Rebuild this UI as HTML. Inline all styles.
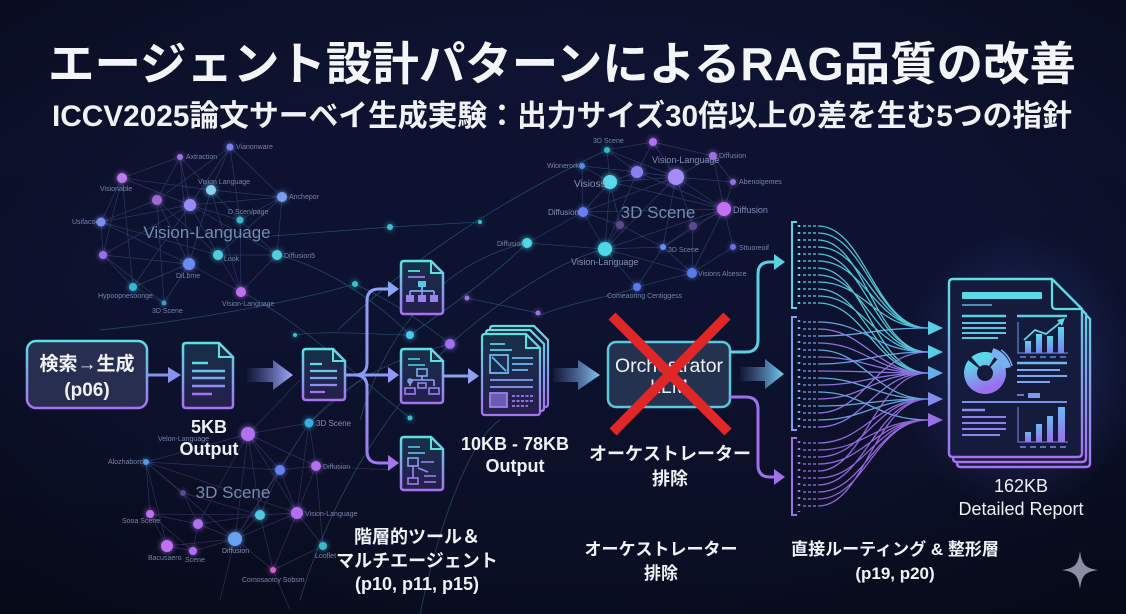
<!DOCTYPE html>
<html><head><meta charset="utf-8">
<style>
html,body{margin:0;padding:0;background:#0b1026;}
svg{display:block;}
text{font-family:"Liberation Sans","Noto Sans CJK JP",sans-serif;}
</style></head><body>
<svg width="1126" height="614" viewBox="0 0 1126 614" xmlns="http://www.w3.org/2000/svg" xmlns:xlink="http://www.w3.org/1999/xlink">
<defs>
 <linearGradient id="bg" x1="0" y1="0" x2="0" y2="1">
  <stop offset="0" stop-color="#0e1331"/>
  <stop offset="0.5" stop-color="#0d1230"/>
  <stop offset="1" stop-color="#0a0e22"/>
 </linearGradient>
 <radialGradient id="vig" cx="0.5" cy="0.5" r="0.72">
  <stop offset="0.55" stop-color="#000" stop-opacity="0"/>
  <stop offset="1" stop-color="#000" stop-opacity="0.35"/>
 </radialGradient>
 <linearGradient id="gv" x1="0" y1="0" x2="0" y2="1">
  <stop offset="0" stop-color="#5fe0e0"/>
  <stop offset="0.5" stop-color="#7fa6ee"/>
  <stop offset="1" stop-color="#a772f0"/>
 </linearGradient>
 <linearGradient id="gdf" x1="0" y1="0" x2="0" y2="1">
  <stop offset="0" stop-color="#17304a"/>
  <stop offset="1" stop-color="#241f4c"/>
 </linearGradient>
 <linearGradient id="fat1" x1="0" y1="0" x2="1" y2="0">
  <stop offset="0" stop-color="#7a80e0" stop-opacity="0.05"/>
  <stop offset="1" stop-color="#a4acf8"/>
 </linearGradient>
 <linearGradient id="fat2" x1="0" y1="0" x2="1" y2="0">
  <stop offset="0" stop-color="#7a90e0" stop-opacity="0.05"/>
  <stop offset="1" stop-color="#80c4f0"/>
 </linearGradient>
 <linearGradient id="fat3" x1="0" y1="0" x2="1" y2="0">
  <stop offset="0" stop-color="#7a90e0" stop-opacity="0.05"/>
  <stop offset="1" stop-color="#6cd0ee"/>
 </linearGradient>
 <linearGradient id="branch" gradientUnits="userSpaceOnUse" x1="0" y1="280" x2="0" y2="470">
  <stop offset="0" stop-color="#8aa4f4"/>
  <stop offset="0.5" stop-color="#8f98f2"/>
  <stop offset="1" stop-color="#a476ec"/>
 </linearGradient>
 <linearGradient id="barg" x1="0" y1="0" x2="0" y2="1">
  <stop offset="0" stop-color="#5ad8e8"/>
  <stop offset="1" stop-color="#7a80f0"/>
 </linearGradient>
 <linearGradient id="barg2" x1="0" y1="0" x2="0" y2="1">
  <stop offset="0" stop-color="#6ab8f0"/>
  <stop offset="1" stop-color="#9a6ef0"/>
 </linearGradient>
 <linearGradient id="gpie" x1="0" y1="0" x2="0" y2="1">
  <stop offset="0" stop-color="#5ad8e8"/>
  <stop offset="1" stop-color="#9a70f0"/>
 </linearGradient>
 <radialGradient id="glowR" cx="0.5" cy="0.5" r="0.5">
  <stop offset="0" stop-color="#4a70d8" stop-opacity="0.38"/>
  <stop offset="0.6" stop-color="#4a60c8" stop-opacity="0.15"/>
  <stop offset="1" stop-color="#4a60c8" stop-opacity="0"/>
 </radialGradient>
 <filter id="blur3" x="-50%" y="-50%" width="200%" height="200%"><feGaussianBlur stdDeviation="3"/></filter>
 <filter id="blur2" x="-50%" y="-50%" width="200%" height="200%"><feGaussianBlur stdDeviation="2"/></filter>
</defs>

<rect width="1126" height="614" fill="url(#bg)"/>
<rect width="1126" height="614" fill="url(#vig)"/>

<!-- ===== Background network lines ===== -->
<g fill="none" stroke-linecap="round">
 <path stroke="#6a88d8" stroke-opacity="0.32" stroke-width="0.7" d="M230,147L157,200 M230,147L190,205 M230,147L211,190 M230,147L282,197 M230,147L240,220 M180,157L122,178 M180,157L190,205 M180,157L211,190 M180,157L157,200 M180,157L189,264 M122,178L101,222 M122,178L190,205 M122,178L103,255 M122,178L211,190 M122,178L133,287 M157,200L101,222 M157,200L218,255 M157,200L189,264 M157,200L164,303 M190,205L282,197 M190,205L240,220 M190,205L218,255 M190,205L133,287 M190,205L277,255 M190,205L103,255 M211,190L282,197 M211,190L189,264 M211,190L241,292 M211,190L240,220 M282,197L240,220 M282,197L277,255 M282,197L218,255 M101,222L103,255 M101,222L189,264 M101,222L218,255 M103,255L133,287 M103,255L189,264 M103,255L164,303 M189,264L241,292 M189,264L133,287 M189,264L164,303 M218,255L241,292 M218,255L277,255 M277,255L241,292 M133,287L164,303 M240,220L241,292 M240,220L277,255 M101,222L190,205"/>
 <path stroke="#6a90d8" stroke-opacity="0.32" stroke-width="0.7" d="M607,150L610,182 M607,150L637,172 M607,150L676,177 M607,150L653,142 M653,142L637,172 M653,142L676,177 M653,142L713,156 M713,156L676,177 M713,156L724,209 M713,156L733,182 M582,166L610,182 M582,166L583,212 M582,166L637,172 M637,172L676,177 M637,172L610,182 M637,172L605,249 M610,182L676,177 M610,182L583,212 M610,182L605,249 M610,182L620,225 M676,177L724,209 M676,177L733,182 M676,177L693,226 M676,177L605,249 M676,177L663,247 M733,182L724,209 M583,212L605,249 M583,212L620,225 M583,212L527,243 M724,209L693,226 M724,209L733,247 M724,209L692,273 M724,209L663,247 M620,225L605,249 M620,225L663,247 M693,226L663,247 M693,226L692,273 M605,249L663,247 M605,249L637,287 M605,249L692,273 M663,247L692,273 M663,247L637,287 M733,247L692,273 M692,273L637,287 M527,243L605,249 M610,182L724,209 M637,172L724,209 M676,177L583,212 M605,249L724,209 M583,212L724,209"/>
 <path stroke="#8a78d8" stroke-opacity="0.3" stroke-width="0.7" d="M248,434L280,470 M248,434L316,466 M248,434L309,423 M248,434L146,462 M248,434L260,515 M248,434L297,513 M248,434L198,524 M309,423L280,470 M309,423L316,466 M309,423L297,513 M146,462L183,493 M146,462L150,514 M146,462L280,470 M146,462L167,546 M280,470L316,466 M280,470L297,513 M280,470L260,515 M280,470L235,539 M316,466L297,513 M316,466L323,546 M183,493L198,524 M183,493L260,515 M150,514L198,524 M150,514L167,546 M150,514L193,551 M198,524L235,539 M198,524L193,551 M198,524L260,515 M260,515L235,539 M260,515L297,513 M297,513L235,539 M297,513L323,546 M297,513L273,570 M167,546L193,551 M167,546L235,539 M193,551L235,539 M235,539L273,570 M323,546L273,570 M260,515L273,570 M146,462L235,539 M150,514L260,515 M248,434L235,539 M309,423L235,539 M146,462L297,513 M248,434L300,380 M309,423L360,380 M316,466L390,470 M235,539L220,600 M273,570L290,610"/>
 <path stroke="#4ab0d0" stroke-opacity="0.35" stroke-width="0.8" d="M272,236 L390,227 L480,222 M277,255 C320,265 370,295 410,335 M100,330 C200,320 300,300 355,284 M241,292 C300,320 360,380 410,418 M450,344 C500,300 560,260 605,249 M410,335 C460,300 500,270 527,243 M338,330 C400,270 480,210 607,150 M467,298 L538,313 M300,600 C330,500 380,420 450,344 M420,614 C440,520 470,440 500,420 M527,243 C450,260 390,320 360,420 M355,284 C390,300 420,320 450,344 M540,315 C580,300 620,295 637,287 M309,423 C350,380 390,360 450,344 M295,335 C330,330 380,335 410,335"/>
</g>

<!-- network node glow -->
<use xlink:href="#nodes" href="#nodes" filter="url(#blur3)" opacity="0.9"/>
<g id="nodes">
 <circle cx="230" cy="147" r="3.5" fill="#7a80f0"/>
 <circle cx="180" cy="157" r="3" fill="#a070e0"/>
 <circle cx="122" cy="178" r="5" fill="#c07af0"/>
 <circle cx="157" cy="200" r="5" fill="#a06ad0"/>
 <circle cx="190" cy="205" r="6" fill="#9a8cf8"/>
 <circle cx="211" cy="190" r="5" fill="#8ad0f0"/>
 <circle cx="282" cy="197" r="5" fill="#7a9ef0"/>
 <circle cx="240" cy="220" r="3.5" fill="#3ab8c8"/>
 <circle cx="101" cy="222" r="4.5" fill="#7a90f0"/>
 <circle cx="103" cy="255" r="4" fill="#9a70e8"/>
 <circle cx="189" cy="264" r="6" fill="#6a8cf0"/>
 <circle cx="218" cy="255" r="5" fill="#4fd0e0"/>
 <circle cx="277" cy="255" r="5" fill="#4fd0e0"/>
 <circle cx="133" cy="287" r="4" fill="#3ab8d0"/>
 <circle cx="164" cy="303" r="2.5" fill="#3aa0c0"/>
 <circle cx="241" cy="292" r="5" fill="#c070f0"/>

 <circle cx="653" cy="142" r="4" fill="#b070f0"/>
 <circle cx="607" cy="150" r="3" fill="#3ab8c8"/>
 <circle cx="713" cy="156" r="4" fill="#a070e0"/>
 <circle cx="582" cy="166" r="3" fill="#5a8ae0"/>
 <circle cx="637" cy="172" r="6" fill="#8a80f0"/>
 <circle cx="610" cy="182" r="7" fill="#5ad8ec"/>
 <circle cx="676" cy="177" r="8" fill="#a48cf8"/>
 <circle cx="733" cy="182" r="3" fill="#9070e0"/>
 <circle cx="583" cy="212" r="5" fill="#6a7ef0"/>
 <circle cx="724" cy="209" r="7" fill="#c070f0"/>
 <circle cx="620" cy="225" r="4" fill="#5a4a8a"/>
 <circle cx="693" cy="226" r="4" fill="#5a4a8a"/>
 <circle cx="527" cy="243" r="5" fill="#4fd8e8"/>
 <circle cx="605" cy="249" r="7" fill="#4fd8e8"/>
 <circle cx="663" cy="247" r="3" fill="#6a8cf0"/>
 <circle cx="733" cy="247" r="3" fill="#6a70e0"/>
 <circle cx="692" cy="273" r="5" fill="#5a7ae8"/>
 <circle cx="637" cy="287" r="4" fill="#5a7ae8"/>

 <circle cx="248" cy="434" r="7" fill="#b070f0"/>
 <circle cx="309" cy="423" r="4.5" fill="#3ab0e0"/>
 <circle cx="146" cy="462" r="3" fill="#4aa0e0"/>
 <circle cx="280" cy="470" r="5" fill="#6a80f0"/>
 <circle cx="316" cy="466" r="5" fill="#b070f0"/>
 <circle cx="183" cy="493" r="3" fill="#5a4a8a"/>
 <circle cx="150" cy="514" r="4" fill="#c070f0"/>
 <circle cx="198" cy="524" r="5" fill="#b070f0"/>
 <circle cx="260" cy="515" r="5" fill="#4fc8e0"/>
 <circle cx="297" cy="513" r="6" fill="#b070f0"/>
 <circle cx="167" cy="546" r="6" fill="#c070f0"/>
 <circle cx="193" cy="551" r="4" fill="#b070f0"/>
 <circle cx="235" cy="539" r="7" fill="#6aa0f0"/>
 <circle cx="323" cy="546" r="4" fill="#3ab8c8"/>
 <circle cx="273" cy="570" r="3" fill="#d060d0"/>

 <circle cx="355" cy="284" r="3" fill="#3ac0d0"/>
 <circle cx="390" cy="227" r="3" fill="#3ac0d0"/>
 <circle cx="410" cy="335" r="4" fill="#4ac8e8"/>
 <circle cx="450" cy="344" r="5" fill="#a070f0"/>
 <circle cx="467" cy="298" r="2.5" fill="#a070e0"/>
 <circle cx="538" cy="313" r="2.5" fill="#a070e0"/>
 <circle cx="410" cy="418" r="2.5" fill="#3ac0d0"/>
 <circle cx="295" cy="335" r="2" fill="#3ac0d0"/>
 <circle cx="480" cy="222" r="2" fill="#3ac0d0"/>
</g>

<!-- network labels -->
<g fill="#7584a8" font-size="7">
 <text x="236" y="149">Vianonware</text>
 <text x="186" y="159">Axtraction</text>
 <text x="100" y="191">Visionable</text>
 <text x="198" y="184">Vision Language</text>
 <text x="289" y="199">Anchepor</text>
 <text x="228" y="214">D Scen/page</text>
 <text x="72" y="224">Usifacoo</text>
 <text x="224" y="261">Look</text>
 <text x="176" y="278">DiLbme</text>
 <text x="284" y="258">Diffusion5</text>
 <text x="98" y="298">Hypoopnesoonge</text>
 <text x="152" y="313">3D Scene</text>
 <text x="222" y="306">Vision-Language</text>

 <text x="593" y="143">3D Scene</text>
 <text x="719" y="158">Diffusion</text>
 <text x="547" y="168">Wionerork</text>
 <text x="739" y="184">Abenoigemes</text>
 <text x="497" y="246">Diffusion</text>
 <text x="668" y="252">3D Scene</text>
 <text x="739" y="250">Sttuoreoif</text>
 <text x="698" y="276">Visions Alsesce</text>
 <text x="607" y="298">Comeaoring Centiggess</text>

 <text x="158" y="441">Velon-Language</text>
 <text x="108" y="464">Alozhaborcl</text>
 <text x="323" y="469">Diffusion</text>
 <text x="122" y="523">Sooa Scene</text>
 <text x="305" y="516">Vision-Language</text>
 <text x="148" y="560">Bacusaero</text>
 <text x="185" y="562">Scene</text>
 <text x="315" y="558">Looflet</text>
 <text x="242" y="582">Comosaotcy Sobsm</text>
</g>
<g fill="#8090b4">
 <text x="574" y="187" font-size="10">Visioss</text>
 <text x="652" y="163" font-size="9">Vision-Language</text>
 <text x="548" y="215" font-size="8">Diffusion</text>
 <text x="733" y="213" font-size="9">Diffusion</text>
 <text x="571" y="265" font-size="9">Vision-Language</text>
 <text x="316" y="426" font-size="8">3D Scene</text>
 <text x="222" y="553" font-size="7">Diffusion</text>
</g>
<g fill="#6f8db5" font-size="17" text-anchor="middle">
 <text x="207" y="238">Vision-Language</text>
 <text x="658" y="218">3D Scene</text>
 <text x="233" y="498">3D Scene</text>
</g>

<!-- ===== Title ===== -->
<text x="562" y="80" font-size="46" font-weight="bold" fill="#f4f5f8" text-anchor="middle" textLength="1028" lengthAdjust="spacingAndGlyphs">エージェント設計パターンによるRAG品質の改善</text>
<text x="562" y="126" font-size="30" font-weight="bold" fill="#f0f1f5" text-anchor="middle" textLength="1020" lengthAdjust="spacingAndGlyphs">ICCV2025論文サーベイ生成実験：出力サイズ30倍以上の差を生む5つの指針</text>

<!-- ===== Flow ===== -->
<!-- input box -->
<rect x="27" y="341" width="120" height="67" rx="9" fill="#282e50" stroke="url(#gv)" stroke-width="2.5"/>
<text x="87" y="370" font-size="19" font-weight="bold" fill="#f0f2f8" text-anchor="middle">検索→生成</text>
<text x="87" y="396" font-size="19" font-weight="bold" fill="#f0f2f8" text-anchor="middle">(p06)</text>

<!-- thin arrow box -> doc1 -->
<line x1="147" y1="375" x2="170" y2="375" stroke="#8890f0" stroke-width="3"/>
<polygon points="168,367 181,375 168,383" fill="#8890f0"/>

<!-- doc1 -->
<path d="M183,346 Q183,343 186,343 H219 L233,357 V405 Q233,408 230,408 H186 Q183,408 183,405 Z" fill="url(#gdf)" stroke="url(#gv)" stroke-width="2.5"/>
<path d="M219,343 V357 H233" fill="none" stroke="#5fe0e0" stroke-width="2"/>
<path d="M192,363 H208 M192,371 H225 M192,378 H225 M192,386 H225 M192,394 H212" stroke="url(#gv)" stroke-width="2.5" fill="none"/>

<text x="209" y="433" font-size="18" font-weight="bold" fill="#eef0f6" text-anchor="middle">5KB</text>
<text x="209" y="455" font-size="18" font-weight="bold" fill="#eef0f6" text-anchor="middle">Output</text>

<!-- fat arrow 1 -->
<polygon points="247,368 273,368 273,360 293,375 273,390 273,382 247,382" fill="url(#fat1)"/>

<!-- doc2 -->
<path d="M303,352 Q303,349 306,349 H333 L345,361 V397 Q345,400 342,400 H306 Q303,400 303,397 Z" fill="url(#gdf)" stroke="url(#gv)" stroke-width="2.5"/>
<path d="M333,349 V361 H345" fill="none" stroke="#5fe0e0" stroke-width="2"/>
<path d="M310,364 H322 M310,371 H337 M310,378 H337 M310,385 H337 M310,392 H325" stroke="url(#gv)" stroke-width="2.2" fill="none"/>

<!-- branching -->
<path d="M345,375 H355 Q367,375 367,363 V301 Q367,289 379,289 H390 M355,375 Q367,375 367,387 V451 Q367,463 379,463 H390 M345,375 H390" fill="none" stroke="url(#branch)" stroke-width="3"/>
<polygon points="388,281 399,289 388,297" fill="#8aa4f4"/>
<polygon points="388,367 399,375 388,383" fill="#8f98f2"/>
<polygon points="388,455 399,463 388,471" fill="#a476ec"/>

<!-- tool doc top -->
<path d="M401,264 Q401,261 404,261 H431 L443,273 V311 Q443,314 440,314 H404 Q401,314 401,311 Z" fill="url(#gdf)" stroke="url(#gv)" stroke-width="2.5"/>
<path d="M431,261 V273 H443" fill="none" stroke="#5fe0e0" stroke-width="2"/>
<g fill="none" stroke="url(#gv)" stroke-width="1.8">
 <path d="M408,271 H420 M408,277 H425"/>
 <rect x="418" y="281" width="8" height="6" fill="#5ac8e8" stroke="none"/>
 <path d="M422,287 V291 M410,291 H434 M410,291 V295 M422,291 V295 M434,291 V295"/>
 <rect x="406" y="295" width="8" height="7" fill="#9a80f0" stroke="none"/>
 <rect x="418" y="295" width="8" height="7" fill="#9a80f0" stroke="none"/>
 <rect x="430" y="295" width="8" height="7" fill="#9a80f0" stroke="none"/>
</g>

<!-- tool doc middle -->
<path d="M401,352 Q401,349 404,349 H431 L443,361 V400 Q443,403 440,403 H404 Q401,403 401,400 Z" fill="url(#gdf)" stroke="url(#gv)" stroke-width="2.5"/>
<path d="M431,349 V361 H443" fill="none" stroke="#5fe0e0" stroke-width="2"/>
<g fill="none" stroke-width="1.6">
 <path d="M408,359 H420 M408,365 H425" stroke="#5ad0e6"/>
 <rect x="417" y="369" width="10" height="7" stroke="#7ab0f0"/>
 <path d="M422,376 V380 M410,380 H434 M410,380 V386 M434,380 V386" stroke="#8aa0f0"/>
 <circle cx="410" cy="381" r="2" stroke="#8aa0f0"/>
 <rect x="405" y="388" width="10" height="6" stroke="#9a80f0"/>
 <rect x="418" y="383" width="8" height="5" stroke="#9a80f0"/>
 <rect x="429" y="388" width="10" height="6" stroke="#9a80f0"/>
</g>

<!-- tool doc bottom -->
<path d="M401,440 Q401,437 404,437 H431 L443,449 V487 Q443,490 440,490 H404 Q401,490 401,487 Z" fill="url(#gdf)" stroke="url(#gv)" stroke-width="2.5"/>
<path d="M431,437 V449 H443" fill="none" stroke="#5fe0e0" stroke-width="2"/>
<g fill="none" stroke-width="1.6">
 <path d="M408,447 H420 M408,453 H425" stroke="#6ac8ea"/>
 <rect x="408" y="458" width="10" height="8" stroke="#8aa0f0"/>
 <path d="M413,466 V478 M421,462 H434 M418,468 L428,472 M424,476 H436 M424,482 H436" stroke="#9a88f0"/>
 <rect x="408" y="478" width="10" height="6" stroke="#a07af0"/>
</g>

<!-- arrow middle doc -> stacked -->
<line x1="443" y1="376" x2="470" y2="376" stroke="#90a0f0" stroke-width="3"/>
<polygon points="468,368 479,376 468,384" fill="#90a0f0"/>

<!-- stacked doc -->
<g stroke="url(#gv)" stroke-width="2.2">
 <path d="M490,329 Q490,326 493,326 H534 L548,340 V404 Q548,407 545,407 H493 Q490,407 490,404 Z" fill="#161c3c"/>
 <path d="M486,333 Q486,330 489,330 H530 L544,344 V408 Q544,411 541,411 H489 Q486,411 486,408 Z" fill="#161c3c"/>
 <path d="M482,337 Q482,334 485,334 H526 L540,348 V412 Q540,415 537,415 H485 Q482,415 482,412 Z" fill="url(#gdf)"/>
</g>
<path d="M526,334 V348 H540" fill="none" stroke="#5fe0e0" stroke-width="2"/>
<g fill="none" stroke-width="1.8">
 <path d="M490,344 H505 M490,350 H512" stroke="#5ad0e6"/>
 <rect x="490" y="355" width="18" height="18" stroke="#6ab8ee"/>
 <path d="M492,357 L506,371" stroke="#6ab8ee"/>
 <path d="M512,358 H533 M512,364 H533 M512,370 H528" stroke="#6ab8ee"/>
 <path d="M490,380 H533 M490,387 H533" stroke="#8a9cf0"/>
 <rect x="490" y="393" width="17" height="14" fill="#6a5ab0" stroke="#9a80f0"/>
 <path d="M512,396 H533 M512,401 H533 M512,406 H528" stroke="#a07af0" stroke-dasharray="3 1.5"/>
</g>

<text x="515" y="450" font-size="18" font-weight="bold" fill="#eef0f6" text-anchor="middle">10KB - 78KB</text>
<text x="515" y="472" font-size="18" font-weight="bold" fill="#eef0f6" text-anchor="middle">Output</text>

<!-- fat arrow 2 -->
<polygon points="553,368 578,368 578,360 600,375 578,390 578,382 553,382" fill="url(#fat2)"/>

<!-- Orchestrator -->
<rect x="608" y="342" width="122" height="65" rx="8" fill="#243250" stroke="#58c8dc" stroke-width="2.5"/>
<text x="669" y="372" font-size="19.5" fill="#eef2f8" text-anchor="middle" textLength="108" lengthAdjust="spacingAndGlyphs">Orchestrator</text>
<text x="669" y="393" font-size="19.5" fill="#eef2f8" text-anchor="middle">LLM</text>
<path d="M612,316 L728,432 M727,316 L613,432" stroke="#e02626" stroke-width="10"/>

<text x="670" y="460" font-size="18" font-weight="bold" fill="#f0f2f8" text-anchor="middle">オーケストレーター</text>
<text x="670" y="485" font-size="18" font-weight="bold" fill="#f0f2f8" text-anchor="middle">排除</text>

<!-- orchestrator branches -->
<path d="M730,352 H746 Q758,352 758,340 V274 Q758,262 770,262 H776" fill="none" stroke="#5ad0e2" stroke-width="3"/>
<polygon points="774,254 785,262 774,270" fill="#5ad0e2"/>
<path d="M730,397 H746 Q758,397 758,409 V465 Q758,477 770,477 H776" fill="none" stroke="#a070e8" stroke-width="3"/>
<polygon points="774,469 785,477 774,485" fill="#a070e8"/>
<!-- fat arrow 3 -->
<polygon points="740,367 765,367 765,359 784,374 765,389 765,381 740,381" fill="url(#fat3)"/>

<!-- brackets -->
<g fill="none" stroke-width="2">
 <path d="M797,222 H792 V308 H797" stroke="#58d6e4"/>
 <path d="M797,317 H792 V430 H797" stroke="#7aa0ee"/>
 <path d="M797,438 H792 V515 H797" stroke="#a070e8"/>
</g>
<g fill="none" stroke-width="2.5" stroke-dasharray="2 5">
 <path d="M799,225 V306" stroke="#58d6e4"/>
 <path d="M799,320 V430" stroke="#7aa0ee"/>
 <path d="M799,441 V512" stroke="#a070e8"/>
</g>
<g fill="none" stroke-width="1.2" stroke-dasharray="3 2">
 <path stroke="#58d6e4" d="M803,226H818M803,233H818M803,240H818M803,247H818M803,254H818M803,261H818M803,268H818M803,275H818M803,282H818M803,289H818M803,296H818M803,303H818"/>
 <path stroke="#7aa0ee" d="M803,322H818M803,329H818M803,336H818M803,343H818M803,350H818M803,357H818M803,364H818M803,371H818M803,378H818M803,385H818M803,392H818M803,399H818M803,406H818M803,413H818M803,420H818M803,427H818"/>
 <path stroke="#a070e8" d="M803,443H818M803,450H818M803,457H818M803,464H818M803,471H818M803,478H818M803,485H818M803,492H818M803,499H818M803,506H818"/>
</g>
<!-- fan curves -->
<g fill="none" stroke-width="1.3" stroke-opacity="0.9">
 <path stroke="#58d6e4" d="M818,226C865,226 875,328 928,328 M818,233C865,233 875,328 928,328 M818,240C865,240 875,352 928,352 M818,247C865,247 875,328 928,328 M818,254C865,254 875,352 928,352 M818,261C865,261 875,328 928,328 M818,268C865,268 875,373 928,373 M818,275C865,275 875,352 928,352 M818,282C865,282 875,328 928,328 M818,289C865,289 875,373 928,373 M818,296C865,296 875,352 928,352 M818,303C865,303 875,373 928,373"/>
 <path stroke="#6ab8ee" d="M818,322C865,322 875,352 928,352 M818,336C865,336 875,328 928,328 M818,350C865,350 875,399 928,399 M818,364C865,364 875,352 928,352 M818,378C865,378 875,399 928,399 M818,392C865,392 875,420 928,420 M818,406C865,406 875,399 928,399 M818,420C865,420 875,399 928,399"/>
 <path stroke="#9a7ef0" d="M818,329C865,329 875,373 928,373 M818,343C865,343 875,373 928,373 M818,357C865,357 875,373 928,373 M818,371C865,371 875,373 928,373 M818,385C865,385 875,373 928,373 M818,399C865,399 875,373 928,373 M818,413C865,413 875,352 928,352 M818,427C865,427 875,373 928,373"/>
 <path stroke="#a070e8" d="M818,443C865,443 875,399 928,399 M818,450C865,450 875,420 928,420 M818,457C865,457 875,399 928,399 M818,464C865,464 875,420 928,420 M818,471C865,471 875,373 928,373 M818,478C865,478 875,420 928,420 M818,485C865,485 875,399 928,399 M818,492C865,492 875,420 928,420 M818,499C865,499 875,420 928,420 M818,506C865,506 875,399 928,399"/>
</g>
<polygon points="928,321 943,328 928,335" fill="#5ad8e6"/>
<polygon points="928,345 943,352 928,359" fill="#5ad8e6"/>
<polygon points="928,366 943,373 928,380" fill="#6ab8ee"/>
<polygon points="928,392 943,399 928,406" fill="#8a90f0"/>
<polygon points="928,413 943,420 928,427" fill="#a070e8"/>

<!-- report glow -->
<ellipse cx="1020" cy="372" rx="120" ry="140" fill="url(#glowR)"/>

<!-- report pages -->
<g stroke="url(#gv)" stroke-width="2.4">
 <path d="M957,293 Q957,289 961,289 H1060 L1090,319 V463 Q1090,467 1086,467 H961 Q957,467 957,463 Z" fill="#131a3a"/>
 <path d="M953,288 Q953,284 957,284 H1056 L1086,314 V458 Q1086,462 1082,462 H957 Q953,462 953,458 Z" fill="#131a3a"/>
 <path d="M949,283 Q949,279 953,279 H1052 L1082,309 V453 Q1082,457 1078,457 H953 Q949,457 949,453 Z" fill="#141b3c"/>
</g>
<path d="M1052,279 V305 Q1052,309 1056,309 H1082" fill="none" stroke="#5fe0e0" stroke-width="2.2"/>
<!-- report content -->
<rect x="962" y="292" width="80" height="7" rx="1" fill="#5ad8e8"/>
<g fill="none" stroke-linecap="butt">
 <path d="M962,305 H992" stroke="#6ab0e0" stroke-width="1.5"/>
 <path d="M962,316 H1006" stroke="#5ad0e6" stroke-width="2.5"/>
 <path d="M962,323 H1006 M962,328 H1006 M962,333 H1006 M962,338 H998" stroke="#5ac8e0" stroke-width="2"/>
 <path d="M1017,316 H1067" stroke="#5ad0e6" stroke-width="2.5"/>
 <path d="M1018,322 V353 H1068" stroke="#6a9ce8" stroke-width="1"/>
 <path d="M1017,363 H1067" stroke="#6ab8ee" stroke-width="2.5"/>
 <path d="M1017,370 H1060 M1017,376 H1067 M1017,382 H1050" stroke="#7aa8f0" stroke-width="2"/>
 <path d="M1017,395 H1024" stroke="#7a9cf0" stroke-width="1.5"/>
 <path d="M962,402 H1067" stroke="#7a90e8" stroke-width="2"/>
 <path d="M962,410 H985" stroke="#8a8cf0" stroke-width="2.5"/>
 <path d="M962,417 H1006 M962,423 H1006 M962,429 H1006 M962,435 H1000" stroke="#9080f0" stroke-width="2"/>
 <path d="M1018,407 V442 H1068" stroke="#8a80e8" stroke-width="1"/>
 <path d="M1020,447 H1068" stroke="#8a80e8" stroke-width="1.5" stroke-dasharray="6 4"/>
 <path d="M1020,357 H1068" stroke="#6a9ce8" stroke-width="1.2" stroke-dasharray="6 4"/>
 <polyline points="1024,340 1035,330 1046,334 1061,322" stroke="#5ad8e8" stroke-width="1.8"/>
</g>
<polygon points="1057,320 1065,318 1062,326" fill="#5ad8e8"/>
<rect x="1028" y="393" width="12" height="5" fill="#7a9cf0"/>
<rect x="1025" y="341" width="6" height="12" fill="url(#barg)"/>
<rect x="1036" y="334" width="6" height="19" fill="url(#barg)"/>
<rect x="1047" y="336" width="6" height="17" fill="url(#barg)"/>
<rect x="1058" y="327" width="6" height="26" fill="url(#barg)"/>
<rect x="1025" y="432" width="6" height="10" fill="url(#barg2)"/>
<rect x="1036" y="424" width="6" height="18" fill="url(#barg2)"/>
<rect x="1047" y="416" width="6" height="26" fill="url(#barg2)"/>
<rect x="1058" y="407" width="7" height="35" fill="url(#barg2)"/>
<!-- donut -->
<circle cx="985" cy="373" r="14.5" fill="none" stroke="url(#gpie)" stroke-width="13" stroke-dasharray="60 3 18 3 7 200" transform="rotate(-20 985 373)"/>
<path d="M992,352 A22,22 0 0 1 1007,368" fill="none" stroke="#7ab0f0" stroke-width="8"/>
<path d="M1001,350 A27,27 0 0 1 1012,366" fill="none" stroke="#7ab0f0" stroke-width="1.5"/>

<text x="1021" y="492" font-size="18" fill="#eef0f6" text-anchor="middle">162KB</text>
<text x="1021" y="515" font-size="18" fill="#eef0f6" text-anchor="middle">Detailed Report</text>

<!-- bottom labels -->
<g font-size="18" font-weight="bold" fill="#f0f2f8" text-anchor="middle">
 <text x="417" y="543">階層的ツール＆</text>
 <text x="417" y="567">マルチエージェント</text>
 <text x="417" y="590">(p10, p11, p15)</text>
</g>
<g font-size="17" font-weight="bold" fill="#f0f2f8" text-anchor="middle">
 <text x="661" y="555">オーケストレーター</text>
 <text x="661" y="579">排除</text>
 <text x="895" y="555">直接ルーティング &amp; 整形層</text>
 <text x="895" y="579">(p19, p20)</text>
</g>

<!-- sparkle -->
<path d="M1080,551 C1082,565 1085,568 1098,570 C1085,572 1082,575 1080,589 C1078,575 1075,572 1062,570 C1075,568 1078,565 1080,551 Z" fill="#8a8fa6"/>
</svg>
</body></html>
